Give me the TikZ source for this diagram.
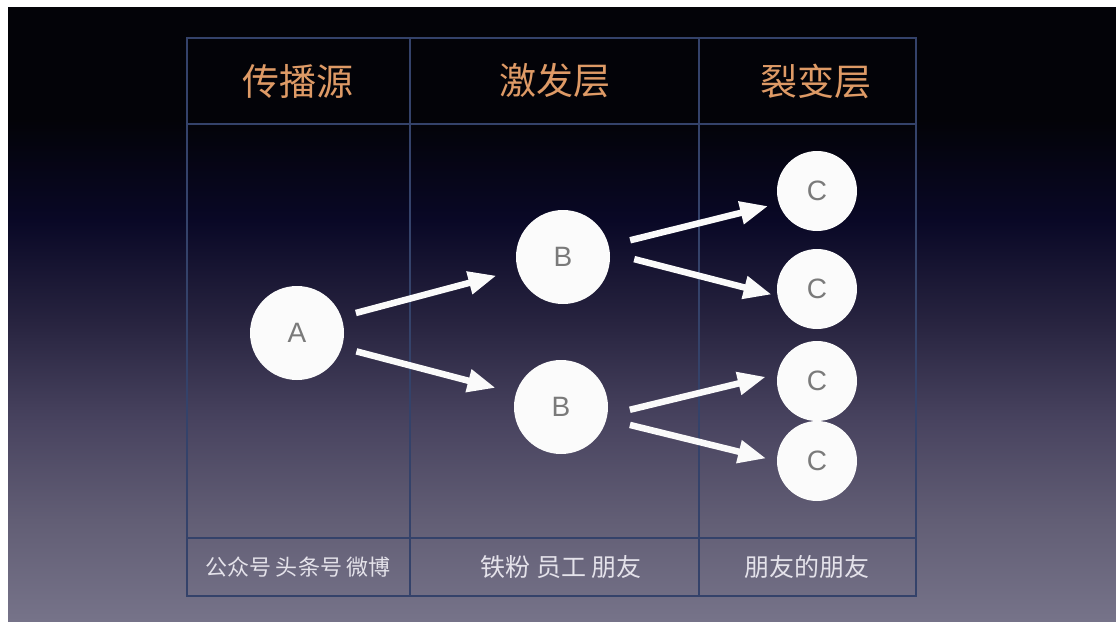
\documentclass[tikz,border=0pt]{standalone}
\usepackage{fontspec}
\setmainfont{Liberation Sans}
\newfontfamily\cjk{Noto Sans CJK SC}
\usetikzlibrary{arrows.meta}
\definecolor{gridline}{HTML}{34426A}
\definecolor{headtxt}{HTML}{DE9A66}
\definecolor{foottxt}{HTML}{E4E2EA}
\definecolor{lettxt}{HTML}{7A7A7A}
\definecolor{bga}{HTML}{767389}
\definecolor{bgb}{HTML}{625E75}
\definecolor{bgc}{HTML}{48435F}
\definecolor{bgd}{HTML}{27233F}
\definecolor{bge}{HTML}{090826}
\definecolor{bgf}{HTML}{030308}
\pgfdeclareverticalshading{bgshade}{100bp}{color(0bp)=(bga); color(25bp)=(bga); color(35bp)=(bgb); color(45bp)=(bgc); color(55bp)=(bgd); color(65bp)=(bge); color(75bp)=(bgf); color(100bp)=(bgf)}
\tikzset{
  grid/.style={draw=gridline, line width=1.8pt},
  bubble/.style={circle, fill=white!97!gray, text=lettxt, font=\fontsize{28}{28}\selectfont},
  bigb/.style={bubble, minimum size=94pt},
  smallc/.style={bubble, minimum size=80pt},
  head/.style={text=headtxt, font=\cjk\fontsize{37}{37}\selectfont},
  foot/.style={text=foottxt, font=\cjk\fontsize{22}{22}\selectfont},
  link/.style={draw=white!96!gray, line width=6.5pt, -{Triangle[length=28pt,width=22pt]}},
}
\begin{document}
\begin{tikzpicture}[x=1pt,y=-1pt]
\useasboundingbox (0,0) rectangle (1116,621);
\fill[white] (0,0) rectangle (1116,621);
\fill[bgf] (8,7) rectangle (1116,121);
\shade[shading=bgshade] (8,120) rectangle (1116,621);
% table
\draw[grid] (187,38) rectangle (916,596);
\draw[grid] (187,124) -- (916,124);
\draw[grid] (187,538) -- (916,538);
\draw[grid] (410,38) -- (410,596);
\draw[grid] (699,38) -- (699,596);
% headers
\node[head] (h1) at (297.5,81) {传播源};
\node[head] (h2) at (555,81) {激发层};
\node[head] (h3) at (816,81) {裂变层};
% footers
\node[foot] (f1) at (298,567) {公众号 头条号 微博};
\node[foot, font=\cjk\fontsize{25}{25}\selectfont] (f2) at (561,567) {铁粉 员工 朋友};
\node[foot, font=\cjk\fontsize{25}{25}\selectfont] (f3) at (807,567) {朋友的朋友};
% bubbles
\node[bigb] (A) at (297,333) {A};
\node[bigb] (B1) at (563,257) {B};
\node[bigb] (B2) at (561,407) {B};
\node[smallc] (C1) at (817,191) {C};
\node[smallc] (C2) at (817,289) {C};
\node[smallc] (C3) at (817,381) {C};
\node[smallc] (C4) at (817,461) {C};
% arrows
\draw[link, shorten <=15pt, shorten >=22pt] (A.20) -- (B1.196);
\draw[link, shorten <=15pt, shorten >=21pt] (A.-18) -- (B2.163);
\draw[link, shorten <=22pt, shorten >=11pt] (B1.14) -- (C1.198);
\draw[link, shorten <=25pt, shorten >=6pt] (B1.5) -- (C2.190);
\draw[link, shorten <=23pt, shorten >=12pt] (B2.-10) -- (C3.170);
\draw[link, shorten <=24pt, shorten >=11pt] (B2.-15) -- (C4.180);
\end{tikzpicture}
\end{document}
